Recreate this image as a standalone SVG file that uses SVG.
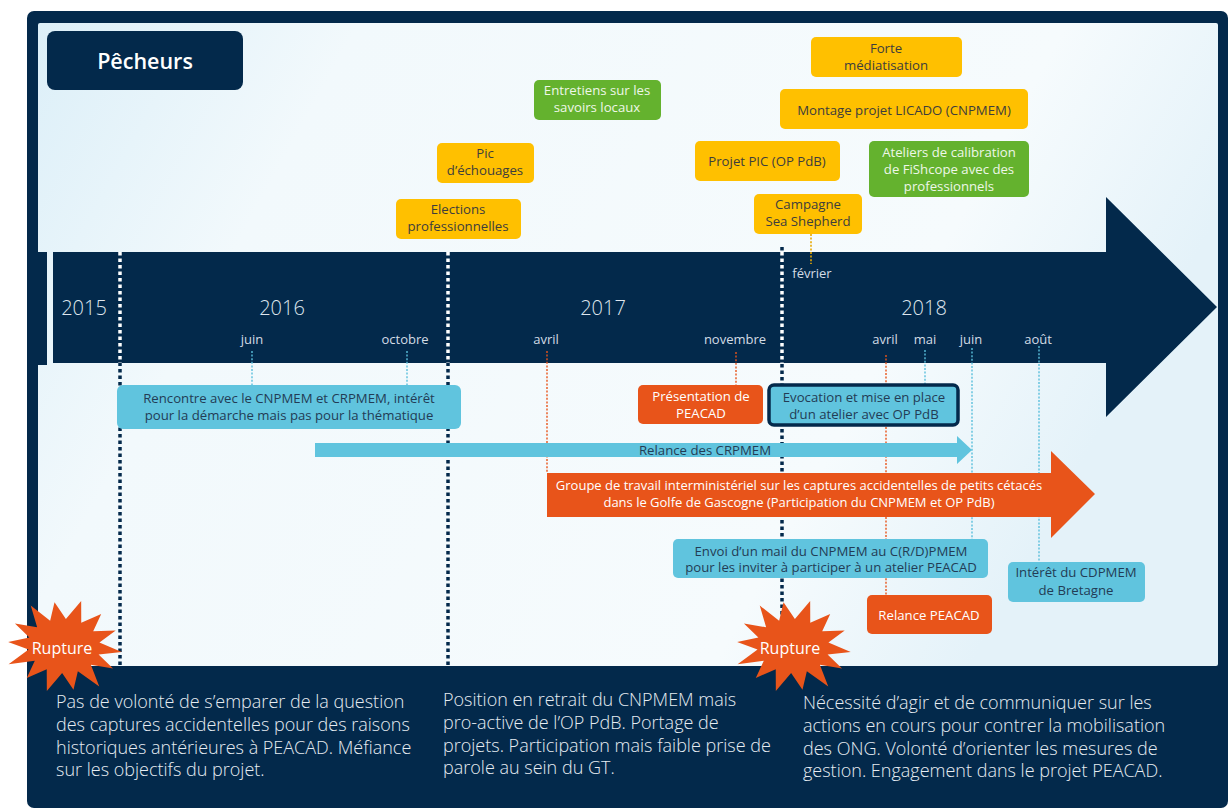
<svg xmlns="http://www.w3.org/2000/svg" width="1228" height="808" viewBox="0 0 1228 808">
<defs>
<linearGradient id="panelGrad" x1="0" y1="0" x2="1" y2="0.3">
<stop offset="0" stop-color="#dceff8"/>
<stop offset="0.25" stop-color="#f2f9fc"/>
<stop offset="0.8" stop-color="#f6fbfd"/>
<stop offset="1" stop-color="#e4f2f9"/>
</linearGradient>
<polygon id="burst" points="58,2 35.1,6 50.5,19.1 28.1,16.8 38,38 15.6,24.3 12.5,42.9 0,27 -14,46 -15.6,24.3 -34.9,34.4 -28.1,16.8 -54,22 -35.1,6 -56,0 -35.1,-6 -50.5,-19.1 -28.1,-16.8 -36,-38 -15.6,-24.3 -12.5,-42.9 0,-27 14,-46 15.6,-24.3 34.9,-34.4 28.1,-16.8 50.5,-19.1 35.1,-6"/>
</defs>
<style>
text{font-family:"Open Sans","Noto Sans","DejaVu Sans",sans-serif;}
.yel{fill:#ffc000;}
.grn{fill:#64b22e;}
.blu{fill:#60c4de;}
.org{fill:#e8541a;}
.ty{font-size:13.2px;fill:#3d3d3d;text-anchor:middle;}
.tg{font-size:13.2px;fill:#eef7e8;text-anchor:middle;}
.tb{font-size:13.2px;fill:#233c55;text-anchor:middle;}
.to{font-size:13.2px;fill:#ffffff;text-anchor:middle;}
.year{font-size:20px;fill:#dfe6ee;text-anchor:middle;font-weight:300;}
.month{font-size:13px;fill:#d3dce5;text-anchor:middle;}
.body{font-size:18px;fill:#e6ecf2;font-weight:300;}
.sepN{stroke:#03294b;stroke-width:3.5;stroke-dasharray:3.5 3;fill:none;}
.sepW{stroke:#ffffff;stroke-width:3.5;stroke-dasharray:3.5 3;fill:none;}
.tkB{stroke:#5bbfdc;stroke-width:1.4;stroke-dasharray:2 1.6;fill:none;}
.tkO{stroke:#e8541a;stroke-width:1.4;stroke-dasharray:2 1.6;fill:none;}
.tkY{stroke:#e8a800;stroke-width:1.6;stroke-dasharray:2 1.6;fill:none;}
</style>

<g id="frame">
<rect x="27" y="11" width="1201" height="797" rx="7" fill="#03294b"/>
<rect x="38" y="23" width="1180" height="643" rx="2" fill="url(#panelGrad)"/>
<rect x="38" y="252" width="9" height="113" fill="#03294b"/>
</g>

<g id="timeline">
<polygon points="53,252 1106,252 1106,197 1217,307 1106,417 1106,363 53,363" fill="#03294b"/>
<text class="year" x="84" y="315">2015</text>
<text class="year" x="282" y="315">2016</text>
<text class="year" x="603" y="315">2017</text>
<text class="year" x="924" y="315">2018</text>
<text class="month" x="252" y="344">juin</text>
<text class="month" x="405" y="344">octobre</text>
<text class="month" x="546" y="344">avril</text>
<text class="month" x="735" y="344">novembre</text>
<text class="month" x="885" y="344">avril</text>
<text class="month" x="925" y="344">mai</text>
<text class="month" x="971" y="344">juin</text>
<text class="month" x="1038" y="344">août</text>
<text class="month" x="812" y="278">février</text>
</g>

<g id="connectors">
<path class="sepN" d="M120,252 V666 M448,252 V666 M782,247 V666"/>
<path class="sepW" d="M120,252 V363 M448,252 V363 M782,252 V363"/>
<path class="tkB" d="M252,351 V385 M407,351 V385 M925,350 V384 M972,348 V539 M1039,346 V562"/>
<path class="tkO" d="M547,351 V472 M736,352 V385 M886,355 V595"/>
<path class="tkY" d="M811,234 V264"/>
</g>

<g id="title">
<rect x="47" y="31" width="196" height="59" rx="8" fill="#03294b"/>
<text x="145" y="69" style="font-size:21.5px;font-weight:600;fill:#ffffff;text-anchor:middle">Pêcheurs</text>
</g>

<g id="elections">
<rect class="yel" x="396" y="199" width="125" height="40" rx="5"/>
<text class="ty" x="458" y="214">Elections</text>
<text class="ty" x="458" y="231">professionnelles</text>
</g>
<g id="pic">
<rect class="yel" x="437" y="143" width="97" height="40" rx="5"/>
<text class="ty" x="485" y="158">Pic</text>
<text class="ty" x="485" y="175">d’échouages</text>
</g>
<g id="entretiens">
<rect class="grn" x="534" y="80" width="127" height="40" rx="5"/>
<text class="tg" x="597" y="95">Entretiens sur les</text>
<text class="tg" x="597" y="112">savoirs locaux</text>
</g>
<g id="forte">
<rect class="yel" x="811" y="37" width="151" height="40" rx="5"/>
<text class="ty" x="886" y="53">Forte</text>
<text class="ty" x="886" y="70">médiatisation</text>
</g>
<g id="licado">
<rect class="yel" x="780" y="89" width="248" height="40" rx="5"/>
<text class="ty" x="904" y="115">Montage projet LICADO (CNPMEM)</text>
</g>
<g id="projetpic">
<rect class="yel" x="695" y="141" width="145" height="40" rx="5"/>
<text class="ty" x="767" y="166">Projet PIC (OP PdB)</text>
</g>
<g id="ateliers">
<rect class="grn" x="869" y="141" width="160" height="56" rx="5"/>
<text class="tg" x="949" y="157">Ateliers de calibration</text>
<text class="tg" x="949" y="174">de FiShcope avec des</text>
<text class="tg" x="949" y="191">professionnels</text>
</g>
<g id="campagne">
<rect class="yel" x="754" y="194" width="108" height="40" rx="5"/>
<text class="ty" x="808" y="209">Campagne</text>
<text class="ty" x="808" y="226">Sea Shepherd</text>
</g>

<g id="rencontre">
<rect class="blu" x="117" y="385" width="344" height="44" rx="6"/>
<text class="tb" x="289" y="403">Rencontre avec le CNPMEM et CRPMEM, intérêt</text>
<text class="tb" x="289" y="420">pour la démarche mais pas pour la thématique</text>
</g>
<g id="presentation">
<rect class="org" x="638" y="385" width="125" height="39" rx="5"/>
<text class="to" x="701" y="401">Présentation de</text>
<text class="to" x="701" y="418">PEACAD</text>
</g>
<g id="evocation">
<rect class="blu" x="769" y="385" width="189" height="40" rx="5" stroke="#03294b" stroke-width="3.5"/>
<text class="tb" x="864" y="402">Evocation et mise en place</text>
<text class="tb" x="864" y="419">d’un atelier avec OP PdB</text>
</g>
<g id="relanceCRPMEM">
<polygon class="blu" points="315,443 957,443 957,436 972,450 957,464 957,457 315,457"/>
<text class="tb" x="705" y="454.5">Relance des CRPMEM</text>
</g>
<g id="groupe">
<polygon class="org" points="547,473 1051,473 1051,451 1095,494 1051,538 1051,517 547,517"/>
<text class="to" x="799" y="490" style="font-size:13px">Groupe de travail interministériel sur les captures accidentelles de petits cétacés</text>
<text class="to" x="799" y="507" style="font-size:13px">dans le Golfe de Gascogne (Participation du CNPMEM et OP PdB)</text>
</g>
<g id="envoi">
<rect class="blu" x="673" y="539" width="315" height="39" rx="5"/>
<text class="tb" x="831" y="556">Envoi d’un mail du CNPMEM au C(R/D)PMEM</text>
<text class="tb" x="831" y="572">pour les inviter à participer à un atelier PEACAD</text>
</g>
<g id="interet">
<rect class="blu" x="1008" y="562" width="137" height="40" rx="5"/>
<text class="tb" x="1076" y="577">Intérêt du CDPMEM</text>
<text class="tb" x="1076" y="595">de Bretagne</text>
</g>
<g id="relancePEACAD">
<rect class="org" x="867" y="595" width="125" height="39" rx="5"/>
<text class="to" x="929" y="619.5">Relance PEACAD</text>
</g>

<g id="rupture1">
<use href="#burst" transform="translate(64,646) rotate(4)" fill="#e8541a"/>
<text x="62" y="654" style="font-size:16px;fill:#ffffff;text-anchor:middle">Rupture</text>
</g>
<g id="rupture2">
<use href="#burst" transform="translate(793,646) rotate(4)" fill="#e8541a"/>
<text x="790" y="654" style="font-size:16px;fill:#ffffff;text-anchor:middle">Rupture</text>
</g>

<g id="comment1">
<text class="body" x="56" y="708">Pas de volonté de s’emparer de la question</text>
<text class="body" x="56" y="731">des captures accidentelles pour des raisons</text>
<text class="body" x="56" y="753.5">historiques antérieures à PEACAD. Méfiance</text>
<text class="body" x="56" y="776">sur les objectifs du projet.</text>
</g>
<g id="comment2">
<text class="body" x="443" y="706">Position en retrait du CNPMEM mais</text>
<text class="body" x="443" y="729">pro-active de l’OP PdB. Portage de</text>
<text class="body" x="443" y="751.5">projets. Participation mais faible prise de</text>
<text class="body" x="443" y="774">parole au sein du GT.</text>
</g>
<g id="comment3">
<text class="body" x="803" y="709">Nécessité d’agir et de communiquer sur les</text>
<text class="body" x="803" y="732">actions en cours pour contrer la mobilisation</text>
<text class="body" x="803" y="754.5">des ONG. Volonté d’orienter les mesures de</text>
<text class="body" x="803" y="777">gestion. Engagement dans le projet PEACAD.</text>
</g>
</svg>
